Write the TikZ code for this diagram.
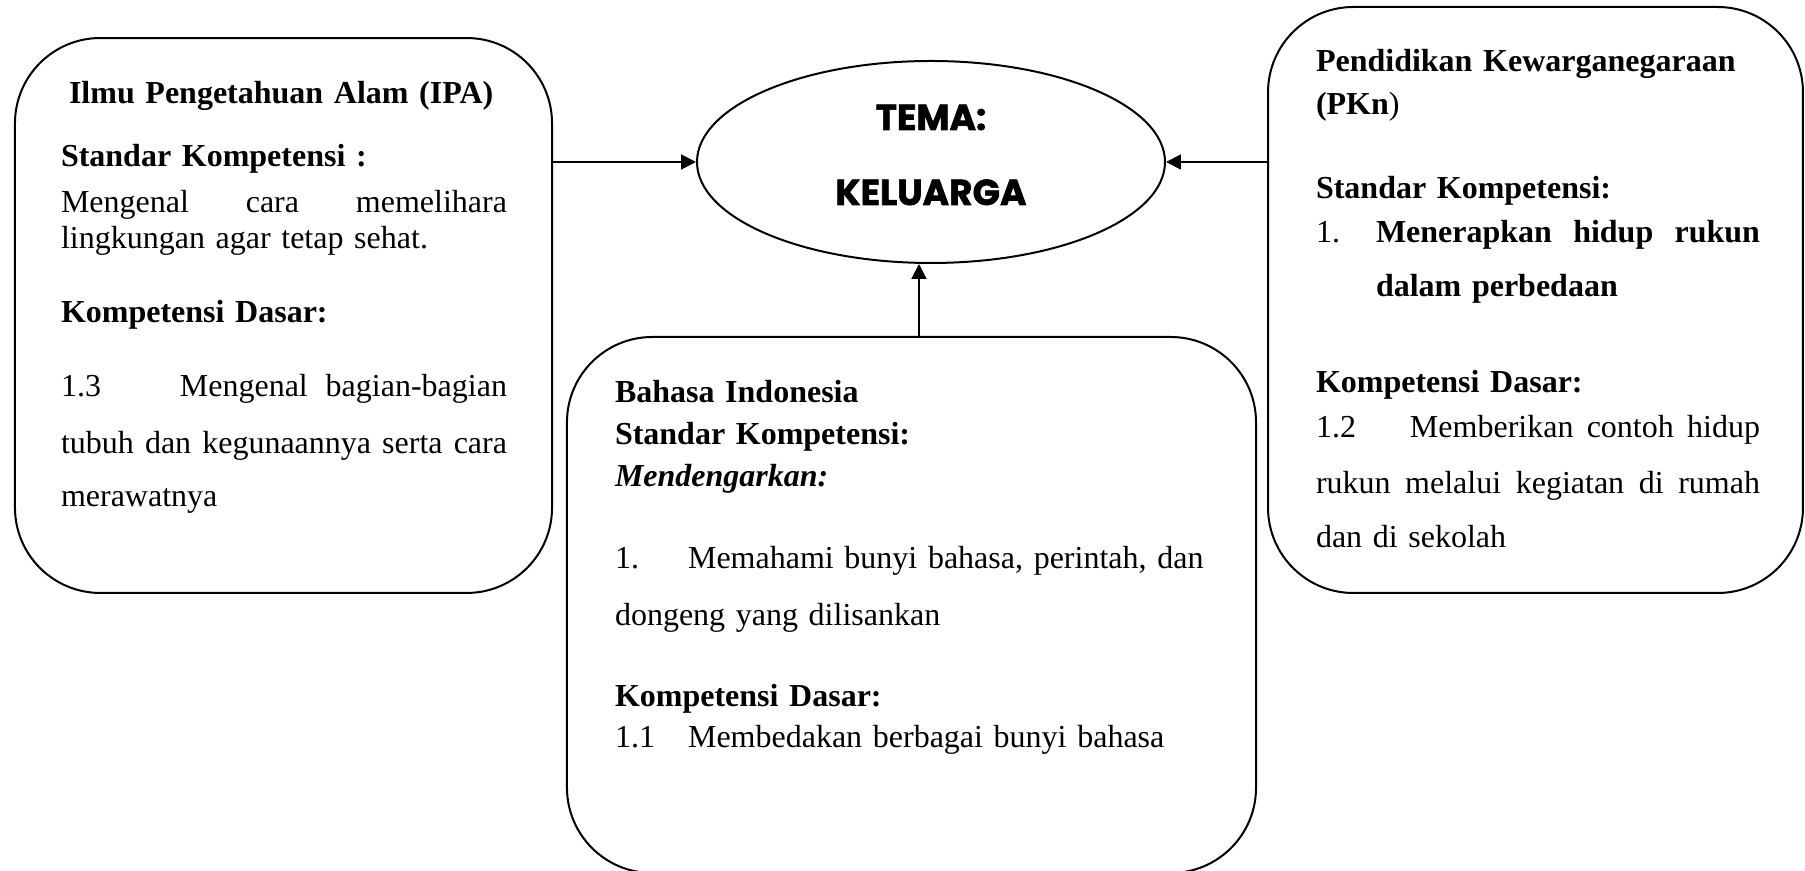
\documentclass[tikz,border=0pt]{standalone}
\usepackage{fontspec}
\setmainfont{Liberation Serif}
\newfontfamily\temafont{Poppins}[BoldFeatures={FakeBold=1.6}]
\usepackage{tikz}
\usetikzlibrary{arrows.meta, positioning, calc, shapes.geometric}

\begin{document}
\begin{tikzpicture}[x=0.375pt,y=-0.375pt,>={Triangle[length=5.6pt,width=5.6pt]},
		line width=0.75pt,
		sub box/.style={rectangle,draw,rounded corners=32pt,inner sep=0pt},
		tema oval/.style={ellipse,draw,inner sep=0pt,minimum width=175.5pt,minimum height=75.75pt},
		tema text/.style={anchor=base,inner sep=0pt,font=\temafont\bfseries\fontsize{13.5}{16}\selectfont},
		box text/.style={anchor=base west,inner sep=0pt,align=left,font=\fontsize{12}{16}\selectfont}]
		
		\clip (0,0) rectangle (1805,871);
		
		\node[tema oval] (tema) at (931,162) {};
		\node[tema text] (temaA) at (931,130) {TEMA:};
		\node[tema text] (temaB) at (931,205) {KELUARGA};
		
		\node[sub box,minimum width=201.4pt,minimum height=208.1pt] (ipa) at (283.5,315.5) {};
		\node[sub box,minimum width=200.6pt,minimum height=219.75pt] (pkn) at (1535.5,300) {};
		\node[sub box,minimum width=258.4pt,minimum height=201pt] (bind) at (911.5,605) {};
		\coordinate (bindTop) at (919,337);
		
		\node[box text,text width=167.25pt] (ipaText) at (60,103.5) {%
			\hspace*{3pt}\textbf{Ilmu Pengetahuan Alam (IPA)}\\[7.8pt]
			\textbf{Standar Kompetensi :}\\[1.25pt]
			\makebox[\linewidth][l]{Mengenal\hfill cara\hfill memelihara}\\[-2.5pt]
			lingkungan agar tetap sehat.\\[11.4pt]
			\textbf{Kompetensi Dasar:}\\[11.75pt]
			\makebox[\linewidth][l]{\makebox[44.6pt][l]{1.3}Mengenal\hfill bagian-bagian}\\[5.4pt]
			\makebox[\linewidth][l]{tubuh\hfill dan\hfill kegunaannya\hfill serta\hfill cara}\\[3.9pt]
			merawatnya};
		
		\node[box text,text width=166.5pt] (pknText) at (1315,72) {%
			\textbf{Pendidikan Kewarganegaraan}\\[0.1pt]
			\textbf{(PKn})\\[15.5pt]
			\textbf{Standar Kompetensi:}\\[0.5pt]
			\makebox[\linewidth][l]{\makebox[22.5pt][l]{1.}\textbf{Menerapkan}\hfill\textbf{hidup}\hfill\textbf{rukun}}\\[4.25pt]
			\hspace*{22.5pt}\textbf{dalam perbedaan}\\[20pt]
			\textbf{Kompetensi Dasar:}\\[0.9pt]
			\makebox[\linewidth][l]{\makebox[35.25pt][l]{1.2}Memberikan\hfill contoh\hfill hidup}\\[5pt]
			\makebox[\linewidth][l]{rukun\hfill melalui\hfill kegiatan\hfill di\hfill rumah}\\[3.9pt]
			dan di sekolah};
		
		\node[box text,text width=230pt] (bindText) at (614,403) {%
			\textbf{Bahasa Indonesia}\\[-0.25pt]
			\textbf{Standar Kompetensi:}\\[-0.25pt]
			\textbf{\textit{Mendengarkan:}}\\[14.4pt]
			\makebox[27.4pt][l]{1.}Memahami bunyi bahasa, perintah, dan\\[5.4pt]
			dongeng yang dilisankan\\[14.4pt]
			\textbf{Kompetensi Dasar:}\\[-0.6pt]
			\makebox[27.4pt][l]{1.1}Membedakan berbagai bunyi bahasa};
		
		\path[->]
		(ipa.east |- tema.west) edge (tema.west)
		(pkn.west |- tema.east) edge (tema.east)
		(bindTop) edge (bindTop |- tema.south);
		
	\end{tikzpicture}
\end{document}
